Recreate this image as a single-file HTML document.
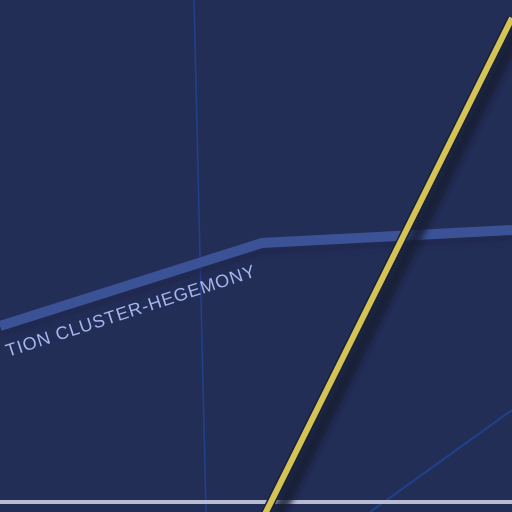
<!DOCTYPE html>
<html><head><meta charset="utf-8"><style>
html,body{margin:0;padding:0;width:512px;height:512px;overflow:hidden;background:#232e57}
</style></head><body>
<svg width="512" height="512" viewBox="0 0 512 512" xmlns="http://www.w3.org/2000/svg">
<defs>
<filter id="blur" x="-20%" y="-20%" width="140%" height="140%"><feGaussianBlur stdDeviation="3"/></filter>
</defs>
<rect width="512" height="512" fill="#232e57"/>
<line x1="194" y1="0" x2="206" y2="512" stroke="#1f418c" stroke-width="1.5"/>
<line x1="370" y1="512" x2="512" y2="410" stroke="#1f418c" stroke-width="2"/>
<polyline points="0,333 262,250 512,236" fill="none" stroke="#1b2447" stroke-width="10" filter="url(#blur)" opacity="0.5"/>
<polyline points="0,326 262,243 512,230" fill="none" stroke="#3b5396" stroke-width="10"/>
<rect x="0" y="500" width="512" height="4" fill="#b7bcd2"/>
<line x1="522" y1="22" x2="277" y2="516" stroke="#161c33" stroke-width="14" filter="url(#blur)" opacity="0.8"/>
<line x1="512" y1="18" x2="265" y2="514" stroke="#1a1f33" stroke-width="9"/>
<line x1="512" y1="18" x2="265" y2="514" stroke="#d4c455" stroke-width="6"/>
<text x="0" y="0" transform="translate(8,357) rotate(-18)" font-family="Liberation Sans, sans-serif" font-size="18" fill="#a9b4ee" letter-spacing="0.9">TION CLUSTER-HEGEMONY</text>
</svg>
</body></html>
